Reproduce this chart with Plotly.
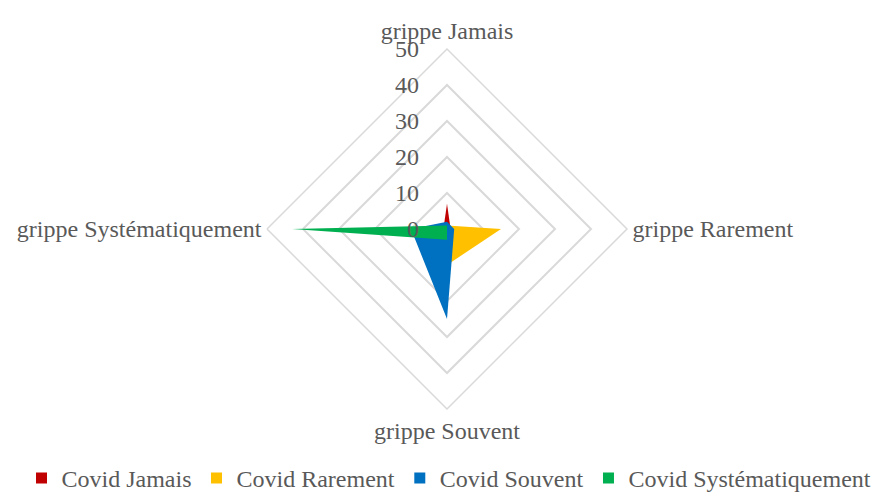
import plotly.graph_objects as go

# axes (clockwise from top) and series values
categories = ["grippe Jamais", "grippe Rarement", "grippe Souvent", "grippe Systématiquement"]
series_names = ["Covid Jamais", "Covid Rarement", "Covid Souvent", "Covid Systématiquement"]
covid_jamais = [7, 1, 1, 1]
covid_rarement = [1, 15, 10, 0]
covid_souvent = [2, 2, 25, 10]
covid_systematiquement = [1, 0, 3, 43]

colors = ["#c00000", "#ffc000", "#0070c0", "#00b050"]
values = [covid_jamais, covid_rarement, covid_souvent, covid_systematiquement]

font = "Liberation Serif"
grey = "#595959"
grid = "#d9d9d9"

fig = go.Figure()
for name, vals, col in zip(series_names, values, colors):
    fig.add_trace(
        go.Scatterpolar(
            r=vals + vals[:1],
            theta=categories + categories[:1],
            name=name,
            mode="none",
            fill="toself",
            fillcolor=col,
            hoverinfo="name+r+theta",
            showlegend=False,
        )
    )

# legend-only entries so the key shows small squares like the original
for name, col in zip(series_names, colors):
    fig.add_trace(
        go.Scatterpolar(
            r=[None],
            theta=[categories[0]],
            name=name,
            mode="markers",
            marker=dict(symbol="square", size=11, color=col),
            hoverinfo="skip",
        )
    )

# shift to compensate the offset seen in the first render
dx, dy = -7, -9
fig.update_layout(
    width=882,
    height=493,
    margin=dict(l=0, r=0, t=0, b=0),
    paper_bgcolor="white",
    plot_bgcolor="white",
    font=dict(family=font, color=grey, size=24),
    polar=dict(
        domain=dict(
            x=[(266 + dx) / 882, (626 + dx) / 882],
            y=[1 - (410 + dy) / 493, 1 - (50 + dy) / 493],
        ),
        bgcolor="white",
        gridshape="linear",
        radialaxis=dict(
            range=[0, 50],
            dtick=10,
            angle=90,
            tickangle=90,
            side="counterclockwise",
            ticksuffix="\u2003",  # push the labels off the axis, as in Excel
            showline=False,
            gridcolor=grid,
            gridwidth=1.5,
            ticks="",
            tickfont=dict(size=24, color=grey),
        ),
        angularaxis=dict(
            rotation=90,
            direction="clockwise",
            showgrid=False,
            linecolor=grid,
            linewidth=1.5,
            ticks="",
            tickfont=dict(size=24, color=grey),
        ),
    ),
    legend=dict(
        orientation="h",
        x=0.5,
        xanchor="center",
        y=0.0,
        yanchor="bottom",
        font=dict(size=24, color=grey),
        itemwidth=30,
    ),
)

fig.write_html("out.html")
